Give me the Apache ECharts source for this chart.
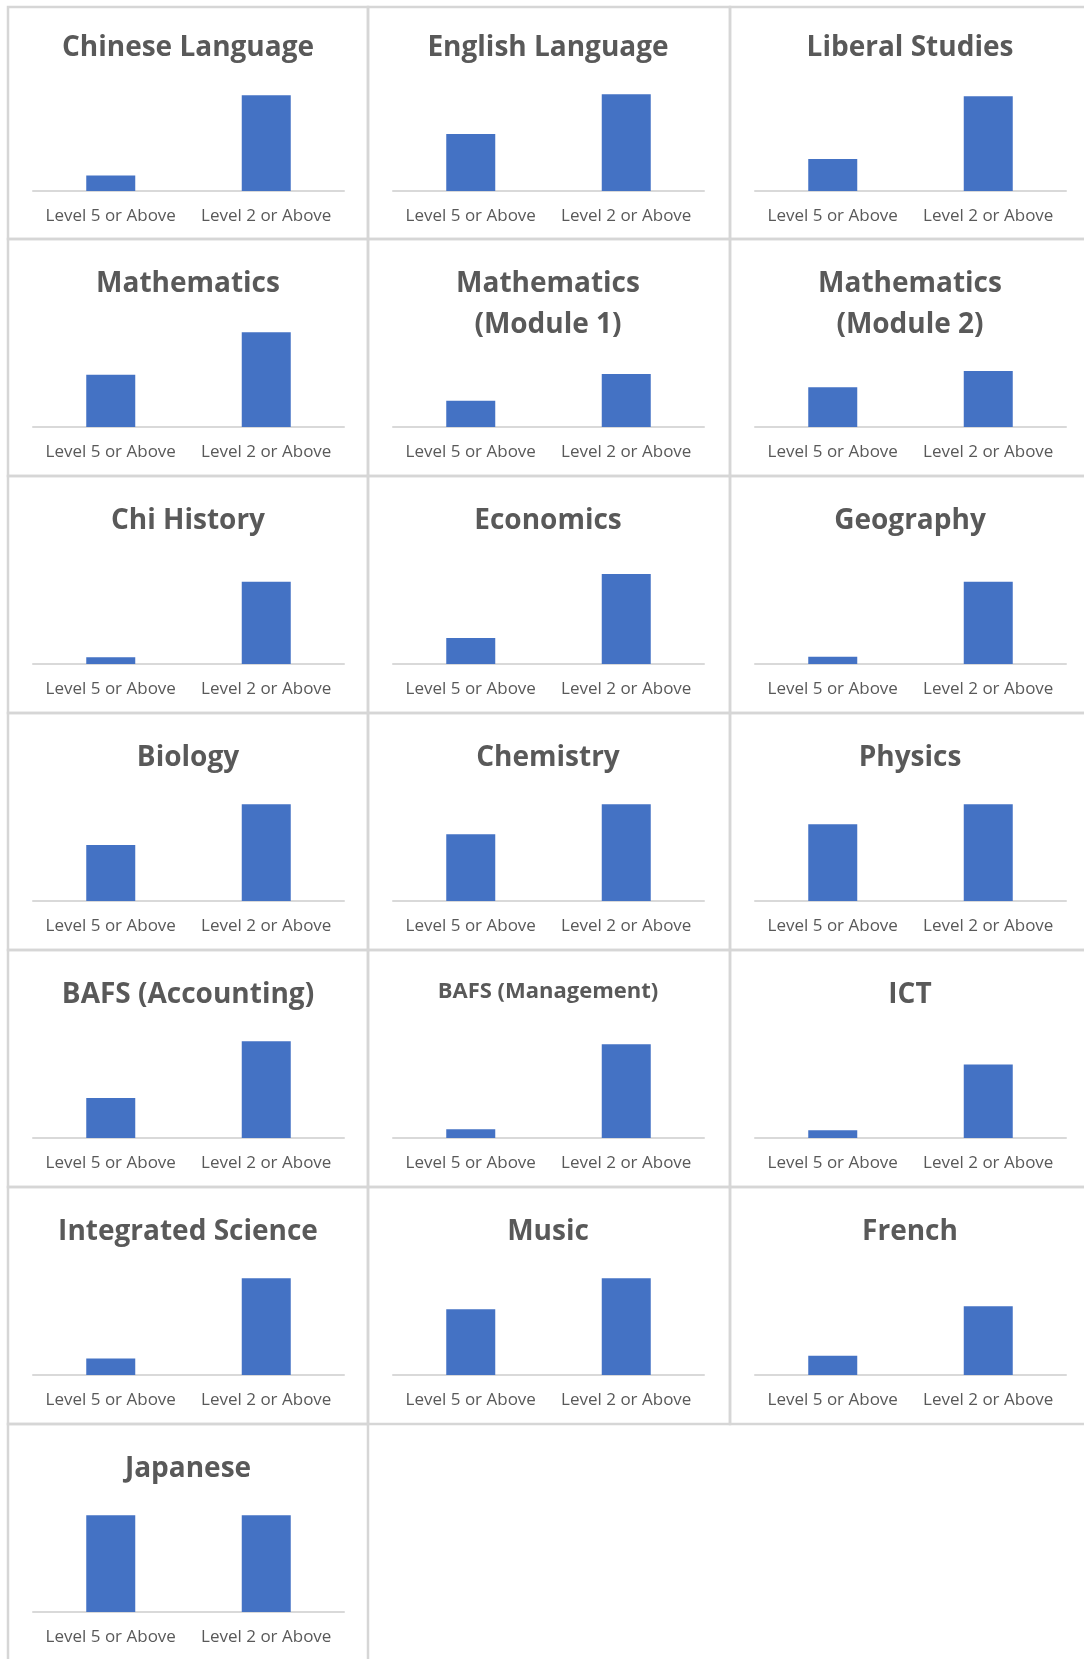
<!DOCTYPE html>
<html>
<head>
<meta charset="utf-8">
<script src="https://cdn.jsdelivr.net/npm/echarts@6/dist/echarts.min.js"></script>
<style>
  html, body { margin: 0; padding: 0; background: #fff; }
  #main { width: 1084px; height: 1659px; }
</style>
</head>
<body>
<div id="main"></div>
<script>
// subject titles, one small chart each
const subjects = [
  'Chinese Language', 'English Language', 'Liberal Studies',
  'Mathematics', 'Mathematics\n(Module 1)', 'Mathematics\n(Module 2)',
  'Chi History', 'Economics', 'Geography',
  'Biology', 'Chemistry', 'Physics',
  'BAFS (Accounting)', 'BAFS (Management)', 'ICT',
  'Integrated Science', 'Music', 'French',
  'Japanese'
];
const categories = ['Level 5 or Above', 'Level 2 or Above'];
// percentage of candidates
const level5 = [16, 59, 33, 54, 45, 68, 7, 27, 7.5, 58, 69, 79.5, 41.5, 9, 8, 17, 68, 20, 100];
const level2 = [99, 100, 98, 98, 91, 96, 85, 93, 85, 100, 100, 100, 100, 97, 76, 100, 100, 71, 100];

const colX = [8, 368, 730];
const colW = [360, 362, 370];
const rowTop = [7, 239, 476, 713, 950, 1187, 1424];
const rowBase = [3, 239, 476, 713, 950, 1187, 1424];

const FONT = "'Open Sans', 'Noto Sans', sans-serif";
const grey = '#595959';

let titles = [], grids = [], xAxes = [], yAxes = [], series = [], borders = [];

subjects.forEach(function (name, i) {
  const col = i % 3, row = Math.floor(i / 3);
  const base = rowBase[row];
  const axisY = base + 188;
  const twoLine = name.indexOf('\n') >= 0;
  const small = name === 'BAFS (Management)';
  const h = twoLine ? 70 : 116;

  titles.push({
    text: name,
    left: colX[col] + 180,
    top: base + 25,
    textAlign: 'center',
    padding: 0,
    textStyle: {
      fontFamily: FONT,
      fontSize: small ? 22 : 28,
      fontWeight: 'bold',
      color: grey,
      lineHeight: small ? 34 : 41
    }
  });

  grids.push({
    left: colX[col] + 25,
    width: 311,
    top: axisY - h,
    height: h
  });

  xAxes.push({
    type: 'category',
    gridIndex: i,
    data: categories,
    axisLine: { lineStyle: { color: '#d9d9d9', width: 2 } },
    axisTick: { show: false },
    axisLabel: {
      color: grey, fontFamily: FONT, fontSize: 17, margin: 17,
      interval: 0, hideOverlap: false
    }
  });

  yAxes.push({
    type: 'value',
    gridIndex: i,
    min: 0,
    max: 120,
    show: false
  });

  series.push({
    type: 'bar',
    name: name,
    xAxisIndex: i,
    yAxisIndex: i,
    data: [level5[i], level2[i]],
    barWidth: 49,
    itemStyle: { color: '#4472C4' },
    silent: true
  });

  const nextTop = row + 1 < rowTop.length ? rowTop[row + 1] : 1680;
  borders.push({
    type: 'rect',
    shape: { x: colX[col], y: rowTop[row], width: colW[col], height: nextTop - rowTop[row] },
    style: { fill: 'none', stroke: '#d6d6d6', lineWidth: 2.5 },
    silent: true
  });
});

const chart = echarts.init(document.getElementById('main'), null, { renderer: 'canvas' });
chart.setOption({
  animation: false,
  backgroundColor: '#fff',
  title: titles,
  grid: grids,
  xAxis: xAxes,
  yAxis: yAxes,
  series: series,
  graphic: borders
});
</script>
</body>
</html>
